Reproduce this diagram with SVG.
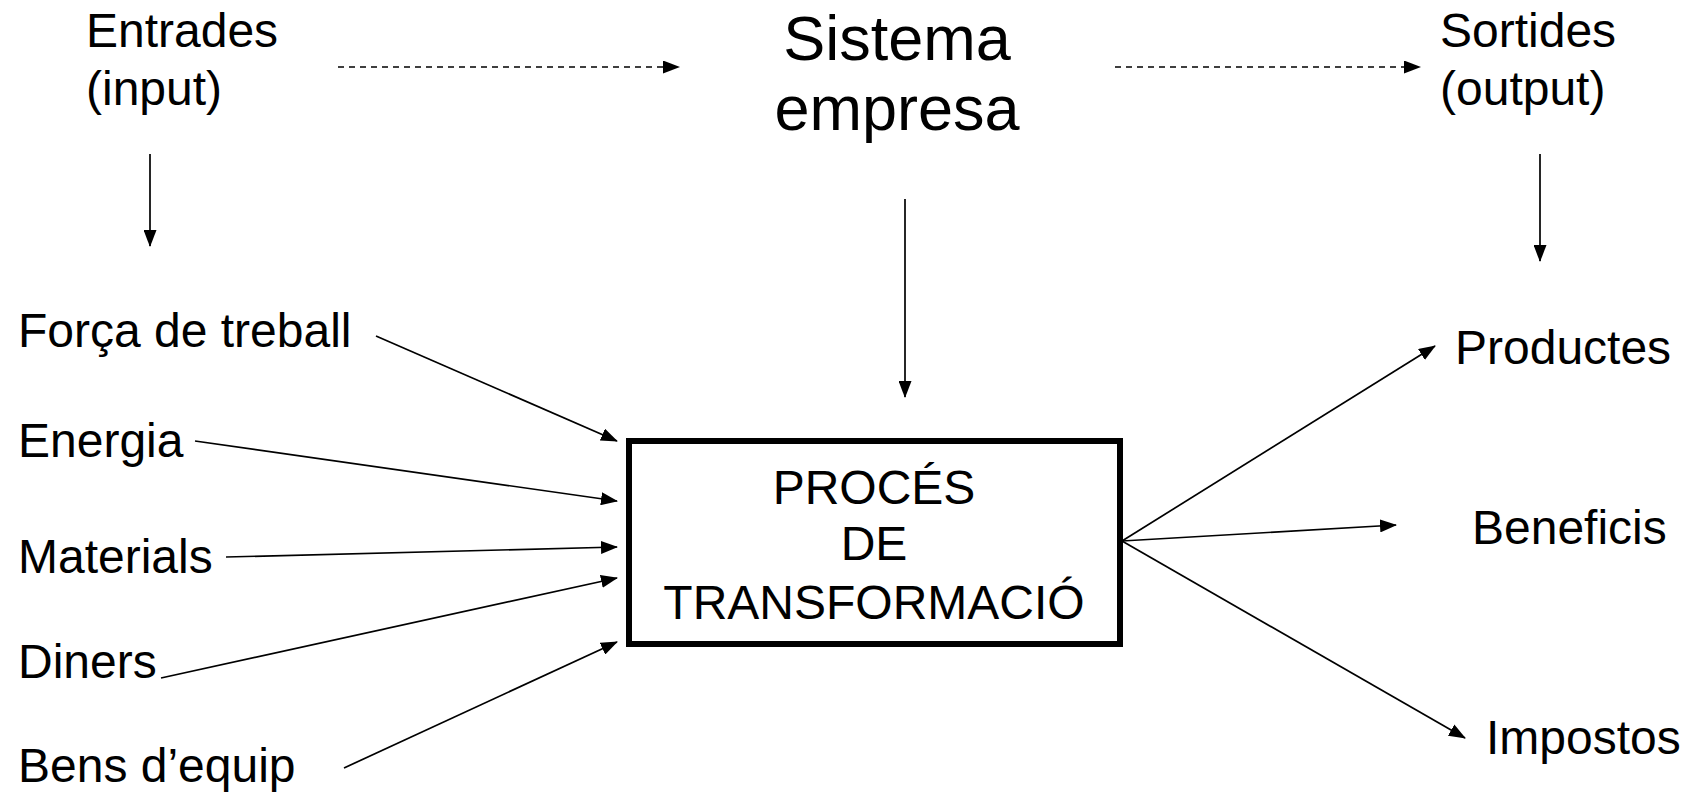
<svg xmlns="http://www.w3.org/2000/svg" width="1688" height="795" viewBox="0 0 1688 795">
<style>
text{font-family:"Liberation Sans",Arial,sans-serif;fill:#000;font-size:48px}
.big{font-size:63px}
.c{text-anchor:middle}
.ln{stroke:#000;stroke-width:1.7;fill:none;marker-end:url(#ah)}
.d{stroke-dasharray:6 5}
</style>
<defs>
<marker id="ah" viewBox="0 0 17 13" refX="16" refY="6.5" markerWidth="17" markerHeight="13" markerUnits="userSpaceOnUse" orient="auto">
<path d="M0,0 L17,6.5 L0,13 z" fill="#000"/>
</marker>
</defs>
<rect width="1688" height="795" fill="#fff"/>
<g id="entrades"><text x="86" y="47">Entrades</text><text x="86" y="105">(input)</text></g>
<g id="sistema"><text class="big c" x="897" y="60">Sistema</text><text class="big c" x="897" y="130">empresa</text></g>
<g id="sortides"><text x="1440" y="47">Sortides</text><text x="1440" y="105">(output)</text></g>
<g id="forca"><text x="18" y="347">Força de treball</text></g>
<g id="energia"><text x="18" y="457">Energia</text></g>
<g id="materials"><text x="18" y="573">Materials</text></g>
<g id="diners"><text x="18" y="678">Diners</text></g>
<g id="bens"><text x="18" y="782">Bens d’equip</text></g>
<g id="proces"><rect x="629" y="441" width="491" height="203" fill="none" stroke="#000" stroke-width="6"/>
<text class="c" x="874" y="504">PROCÉS</text><text class="c" x="874" y="560">DE</text><text class="c" x="874" y="619">TRANSFORMACIÓ</text></g>
<g id="productes"><text x="1455" y="364">Productes</text></g>
<g id="beneficis"><text x="1472" y="544">Beneficis</text></g>
<g id="impostos"><text x="1486" y="754">Impostos</text></g>
<g id="connectors">
<line class="ln d" x1="338" y1="67" x2="679" y2="67"/>
<line class="ln d" x1="1115" y1="67" x2="1420" y2="67"/>
<line class="ln" x1="150" y1="154" x2="150" y2="246"/>
<line class="ln" x1="905" y1="199" x2="905" y2="397"/>
<line class="ln" x1="1540" y1="154" x2="1540" y2="261"/>
<line class="ln" x1="376" y1="336" x2="617" y2="441"/>
<line class="ln" x1="195" y1="441" x2="617" y2="501"/>
<line class="ln" x1="226" y1="557" x2="617" y2="547"/>
<line class="ln" x1="161" y1="678" x2="617" y2="578"/>
<line class="ln" x1="344" y1="768" x2="617" y2="642"/>
<line class="ln" x1="1122" y1="541" x2="1435" y2="346"/>
<line class="ln" x1="1122" y1="541" x2="1396" y2="525"/>
<line class="ln" x1="1122" y1="541" x2="1465" y2="738"/>
</g>
</svg>
